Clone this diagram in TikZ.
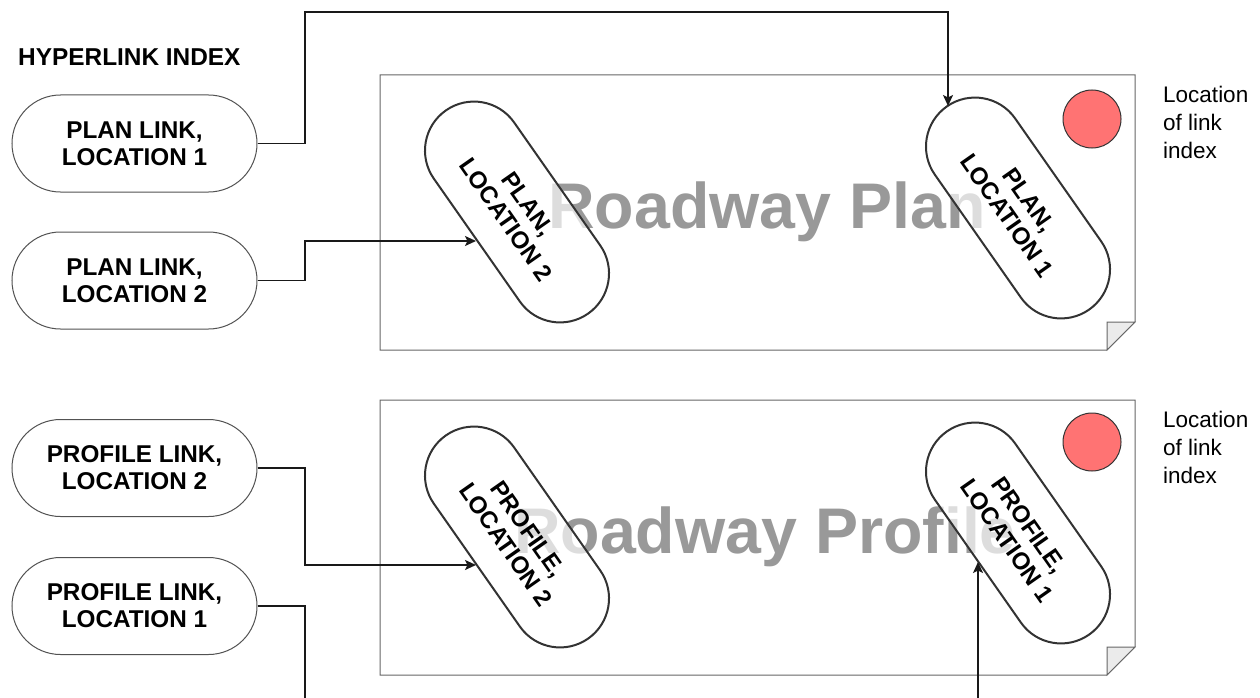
\documentclass[tikz,border=0pt]{standalone}
\usepackage{fontspec}
\setmainfont{Liberation Sans}
\usetikzlibrary{shapes.misc,arrows.meta,calc}

\definecolor{pagegray}{HTML}{666666}
\definecolor{foldgray}{HTML}{EBEBEB}
\definecolor{titlegray}{HTML}{999999}
\definecolor{outline}{HTML}{333333}
\definecolor{markred}{HTML}{FF7373}

\tikzset{
  linkbox/.style={rounded rectangle, draw=outline!85, line width=1pt, fill=white,
    minimum width=245pt, minimum height=97pt, inner sep=0pt, align=center,
    font=\bfseries\fontsize{24.3}{27}\selectfont},
  spotbox/.style={rounded rectangle, draw=outline, line width=2pt, fill=white,
    fill opacity=0.67, text opacity=1, rotate=-55,
    minimum width=248pt, minimum height=98pt, inner sep=0pt, align=center,
    font=\bfseries\fontsize{24}{27}\selectfont},
  bigtitle/.style={text=titlegray, inner sep=0pt,
    font=\bfseries\fontsize{64.5}{70}\selectfont},
  marker/.style={circle, draw=outline, line width=1pt, fill=markred,
    minimum size=58pt, inner sep=0pt},
  note/.style={anchor=north west, inner sep=0pt, align=left,
    font=\fontsize{22.5}{28}\selectfont},
  conn/.style={line width=1.7pt, draw=black!90,
    -{Stealth[length=11pt,width=10pt,inset=2.5pt]}},
}

\begin{document}
\begin{tikzpicture}[x=1pt, y=-1pt]
  \useasboundingbox (0,0) rectangle (1260,698);
  \clip (0,0) rectangle (1260,698);

  % sheets with a folded lower-right corner
  \foreach \top in {75, 400}{
    \draw[pagegray, line width=1pt, fill=white]
      (380,\top) -- (1135,\top) -- (1135,\top+247) -- (1107,\top+275)
      -- (380,\top+275) -- cycle;
    \draw[pagegray, line width=1pt, fill=foldgray]
      (1107,\top+247) -- (1135,\top+247) -- (1107,\top+275) -- cycle;
  }

  % sheet titles
  \node[bigtitle] (plantitle) at (767,212) {Roadway Plan};
  \node[bigtitle] (proftitle) at (765,537) {Roadway Profile};

  % heading
  \node[anchor=base west, inner sep=0pt,
    font=\bfseries\fontsize{24.4}{27}\selectfont] (head) at (18,66) {HYPERLINK INDEX};

  % index entries
  \node[linkbox] (pl1) at (134.5,143.5) {PLAN LINK,\\LOCATION 1};
  \node[linkbox] (pl2) at (134.5,280.5) {PLAN LINK,\\LOCATION 2};
  \node[linkbox] (pr2) at (134.5,468) {PROFILE LINK,\\LOCATION 2};
  \node[linkbox] (pr1) at (134.5,606) {PROFILE LINK,\\LOCATION 1};

  % link targets on the sheets
  \node[spotbox] (spl2) at (517,212) {PLAN,\\LOCATION 2};
  \node[spotbox] (spl1) at (1018,208) {PLAN,\\LOCATION 1};
  \node[spotbox] (spr2) at (517,537) {PROFILE,\\LOCATION 2};
  \node[spotbox] (spr1) at (1018,533) {PROFILE,\\LOCATION 1};

  % index position markers
  \node[marker] (dotplan) at (1092,119) {};
  \node[marker] (dotprof) at (1092,442) {};

  \node[note] (noteplan) at (1163,86) {Location\\of link\\index};
  \node[note] (noteprof) at (1163,411) {Location\\of link\\index};

  % routing points and arrow ends
  \coordinate (b1) at (305,12);
  \coordinate (b2) at (305,241);
  \coordinate (b3) at (305,565);
  \coordinate (b4) at (305,725);
  \coordinate (t1) at (948,106);
  \coordinate (t2) at (476,241);
  \coordinate (t3) at (476,565);
  \coordinate (t4) at (978,562);

  \draw[conn] (pl1.east) -| (b1) -| (t1);
  \draw[conn] (pl2.east) -| (b2) -- (t2);
  \draw[conn] (pr2.east) -| (b3) -- (t3);
  \draw[conn] (pr1.east) -| (b4) -| (t4);
\end{tikzpicture}
\end{document}
